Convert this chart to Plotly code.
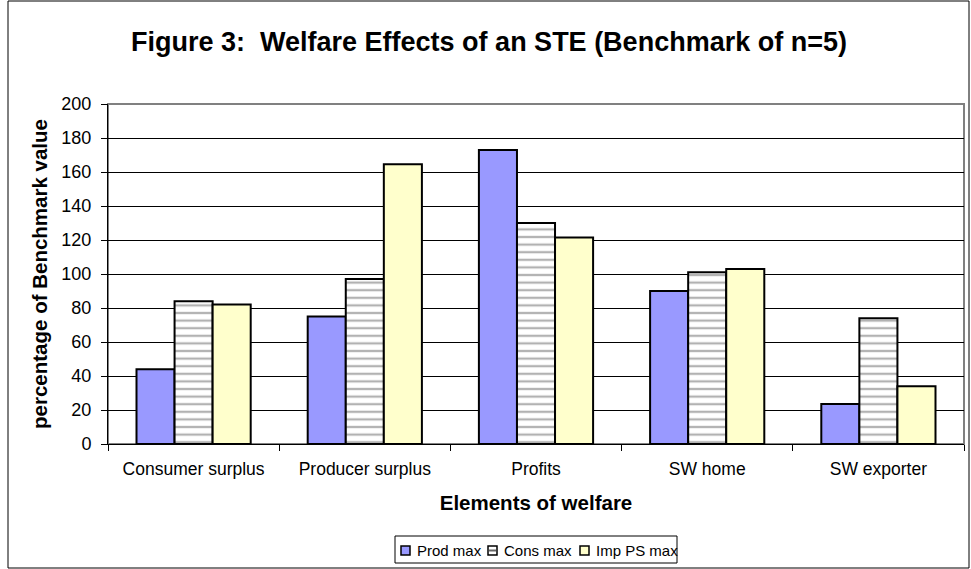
import plotly.graph_objects as go

categories = ["Consumer surplus", "Producer surplus", "Profits", "SW home", "SW exporter"]
series_names = ["Prod max", "Cons max", "Imp PS max"]
prod_max = [44, 75, 173, 90, 23.5]
cons_max = [84, 97, 130, 101, 74]
imp_ps_max = [82, 164.5, 121.5, 103, 34]
y_ticks = [0, 20, 40, 60, 80, 100, 120, 140, 160, 180, 200]

W, H = 971, 569
L, R, T, B = 108, 7, 104, 125
pw, ph = W - L - R, H - T - B

def px(x):  # pixel x -> paper
    return (x - L) / pw

def py(y):  # pixel y -> paper
    return (H - B - y) / ph

colors = ["#9999FF", "white", "#FFFFCC"]
stripe = dict(shape="-", fgcolor="#666666", bgcolor="white", size=7.6, solidity=0.3, fillmode="overlay")

fig = go.Figure()
for name, vals, col in zip(series_names, [prod_max, cons_max, imp_ps_max], colors):
    mk = dict(color=col, line=dict(color="black", width=2))
    if name == "Cons max":
        mk["pattern"] = stripe
    fig.add_trace(go.Bar(name=name, x=categories, y=vals, marker=mk, showlegend=False))

font = "Liberation Sans, Arial, sans-serif"

# custom compact legend (Excel style)
leg_box = (395, 536, 677, 563)
sq_x = [401, 488, 580]
txt_x = [415, 502, 594]
shapes = [
    dict(type="rect", xref="paper", yref="paper", x0=0, x1=1, y0=0, y1=1,
         line=dict(color="#808080", width=2), layer="below"),
    dict(type="rect", xref="paper", yref="paper",
         x0=px(8), x1=px(969), y0=py(568), y1=py(1),
         line=dict(color="black", width=1), layer="below"),
    dict(type="rect", xref="paper", yref="paper",
         x0=px(leg_box[0]), x1=px(leg_box[2]), y0=py(leg_box[3]), y1=py(leg_box[1]),
         line=dict(color="black", width=1), fillcolor="white"),
]
annotations = []
for i, (name, col) in enumerate(zip(series_names, colors)):
    shapes.append(dict(type="rect", xref="paper", yref="paper",
                       x0=px(sq_x[i]), x1=px(sq_x[i] + 9), y0=py(555), y1=py(546),
                       line=dict(color="black", width=1.5), fillcolor=col))
    if name == "Cons max":
        shapes.append(dict(type="line", xref="paper", yref="paper",
                           x0=px(sq_x[i] + 1), x1=px(sq_x[i] + 8), y0=py(550.5), y1=py(550.5),
                           line=dict(color="#666666", width=2)))
    annotations.append(dict(text=name, xref="paper", yref="paper", x=px(txt_x[i]), y=py(550.5),
                            xanchor="left", yanchor="middle", showarrow=False,
                            font=dict(size=15, family=font, color="black")))

fig.update_layout(
    width=W, height=H,
    margin=dict(l=L, r=R, t=T, b=B, autoexpand=False),
    paper_bgcolor="white", plot_bgcolor="white",
    barmode="group", bargap=0.333, bargroupgap=0,
    font=dict(family=font, size=17.5, color="black"),
    title=dict(text="<b>Figure 3:  Welfare Effects of an STE (Benchmark of n=5)</b>",
               x=489 / W, xanchor="center", y=1 - 42 / H, yanchor="middle",
               font=dict(size=27, family=font)),
    showlegend=False,
    xaxis=dict(showline=True, linecolor="black", linewidth=1,
               ticks="outside", tickson="boundaries", ticklen=6, tickcolor="black",
               tickfont=dict(size=17.5), showgrid=False, ticklabelstandoff=9,
               title=dict(text="<b>Elements of welfare</b>", font=dict(size=20.5), standoff=17)),
    yaxis=dict(range=[0, 200], tickvals=y_ticks, showline=True, linecolor="black", linewidth=1,
               ticks="outside", ticklen=6, tickcolor="black", tickfont=dict(size=18),
               ticklabelstandoff=6,
               showgrid=True, gridcolor="black", gridwidth=1, zeroline=False,
               title=dict(text="<b>percentage of Benchmark value</b>", font=dict(size=20.5), standoff=8)),
    shapes=shapes,
    annotations=annotations,
)

fig.write_html("out.html")
